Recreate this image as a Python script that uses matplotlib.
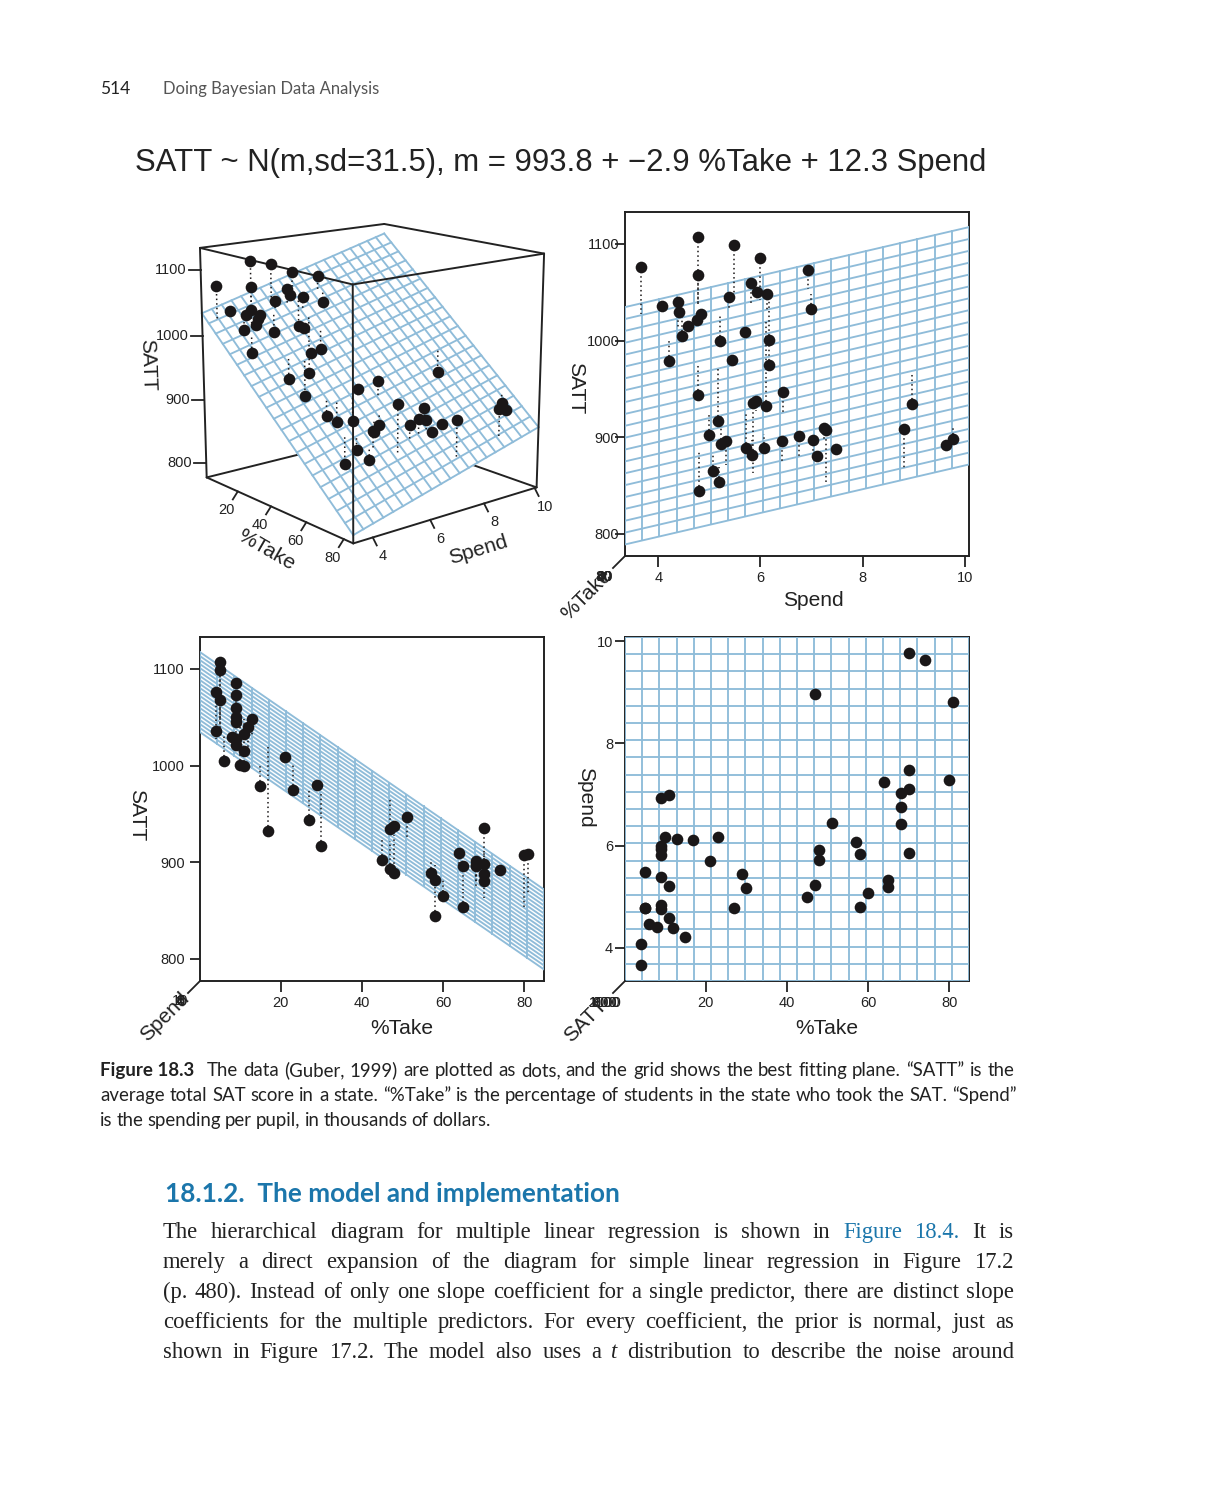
import matplotlib
matplotlib.use("Agg")
import matplotlib.pyplot as plt
import numpy as np

W = 1216
H = 1500

# data
spend = [4.405, 8.963, 4.778, 4.459, 4.992, 5.443, 8.817, 7.030, 5.718, 5.193,
         6.078, 4.210, 6.136, 5.826, 5.483, 5.817, 5.217, 4.761, 6.428, 7.245,
         7.287, 6.994, 6.000, 4.080, 5.383, 5.692, 5.935, 5.160, 5.859, 9.774,
         4.586, 9.623, 5.077, 4.775, 6.162, 4.845, 6.436, 7.109, 7.469, 4.797,
         4.775, 4.388, 5.222, 3.656, 6.750, 5.327, 5.906, 6.107, 6.930, 6.160]
take = [8, 47, 27, 6, 45, 29, 81, 68, 48, 65,
        57, 15, 13, 58, 5, 9, 11, 9, 68, 64,
        80, 11, 9, 4, 9, 21, 9, 30, 70, 70,
        11, 74, 60, 5, 23, 9, 51, 70, 70, 58,
        5, 12, 47, 4, 68, 65, 48, 17, 9, 10]
satt = [1029, 934, 944, 1005, 902, 980, 908, 897, 889, 854,
        889, 979, 1048, 882, 1099, 1060, 999, 1021, 896, 909,
        907, 1033, 1085, 1036, 1045, 1009, 1050, 917, 935, 898,
        1015, 892, 865, 1107, 975, 1027, 947, 880, 888, 844,
        1068, 1040, 893, 1076, 901, 896, 937, 932, 1073, 1001]

# fitted plane from the title
b0 = 993.8
b_take = -2.9
b_spend = 12.3

take_lim = (0.15, 84.85)
spend_lim = (3.35, 10.08)
satt_lim = (777, 1133)
take_ticks = [20, 40, 60, 80]
spend_ticks = [4, 6, 8, 10]
satt_ticks = [800, 900, 1000, 1100]
n_cells = 20

title = "SATT ~ N(m,sd=31.5), m = 993.8 + \u22122.9 %Take + 12.3 Spend"
caption = ["The data (Guber, 1999) are plotted as dots, and the grid shows the best fitting plane. \u201cSATT\u201d is the",
           "average total SAT score in a state. \u201c%Take\u201d is the percentage of students in the state who took the SAT. \u201cSpend\u201d",
           "is the spending per pupil, in thousands of dollars."]
body = ["The hierarchical diagram for multiple linear regression is shown in Figure 18.4. It is",
        "merely a direct expansion of the diagram for simple linear regression in Figure 17.2",
        "(p. 480). Instead of only one slope coefficient for a single predictor, there are distinct slope",
        "coefficients for the multiple predictors. For every coefficient, the prior is normal, just as",
        "shown in Figure 17.2. The model also uses a t distribution to describe the noise around"]

BLUE = "#8fbcd9"
BLACK = "#1a1718"
DOT = 8.4
LW = 1.35
TICK = "#222222"
TICKSIZE = 10.5
LAB = 15.1

spend = np.array(spend)
take = np.array(take)
satt = np.array(satt)

plt.rcParams["font.family"] = ["Liberation Sans", "DejaVu Sans"]
plt.rcParams["axes.linewidth"] = 1.4
plt.rcParams["axes.edgecolor"] = TICK
plt.rcParams["xtick.color"] = TICK
plt.rcParams["ytick.color"] = TICK


def plane(t, s):
    return b0 + b_take * t + b_spend * s


take_grid = np.linspace(take_lim[0], take_lim[1], n_cells + 1)
spend_grid = np.linspace(spend_lim[0], spend_lim[1], n_cells + 1)

fig = plt.figure(figsize=(W / 100, H / 100), dpi=100)


def panel(left, top, right, bottom):
    return fig.add_axes([left / W, 1 - bottom / H, (right - left) / W, (bottom - top) / H])


def style(ax, ylabel_pad):
    for s in ax.spines.values():
        s.set_zorder(1)
    ax.tick_params(axis="x", length=8, width=1.3, labelsize=TICKSIZE, pad=3, labelcolor=TICK)
    ax.tick_params(axis="y", length=7, width=1.3, labelsize=TICKSIZE, pad=ylabel_pad, labelcolor=TICK)


# top right: SATT against Spend
ax2 = panel(625, 212, 969, 556)
for t in take_grid:
    ax2.plot(spend_lim, [plane(t, spend_lim[0]), plane(t, spend_lim[1])], color=BLUE, lw=LW, zorder=2)
for s in spend_grid:
    ax2.plot([s, s], [plane(take_lim[0], s), plane(take_lim[1], s)], color=BLUE, lw=LW, zorder=2)
ax2.vlines(spend, satt, plane(take, spend), color=BLACK, lw=1.1, ls=(0, (1, 2)), zorder=3)
ax2.plot(spend, satt, "o", color=BLACK, ms=DOT, mew=0, zorder=4)
ax2.set_xlim(spend_lim)
ax2.set_ylim(satt_lim)
ax2.set_xticks(spend_ticks)
ax2.set_yticks(satt_ticks)
style(ax2, -3)

# bottom left: SATT against %Take
ax3 = panel(200, 637, 544, 981)
for s in spend_grid:
    ax3.plot(take_lim, [plane(take_lim[0], s), plane(take_lim[1], s)], color=BLUE, lw=LW, zorder=2)
for t in take_grid:
    ax3.plot([t, t], [plane(t, spend_lim[0]), plane(t, spend_lim[1])], color=BLUE, lw=LW, zorder=2)
ax3.vlines(take, satt, plane(take, spend), color=BLACK, lw=1.1, ls=(0, (1, 2)), zorder=3)
ax3.plot(take, satt, "o", color=BLACK, ms=DOT, mew=0, zorder=4)
ax3.set_xlim(take_lim)
ax3.set_ylim(satt_lim)
ax3.set_xticks(take_ticks)
ax3.set_yticks(satt_ticks)
style(ax3, 4)

# bottom right: Spend against %Take, looking straight down on the plane
ax4 = panel(625, 637, 969, 981)
for s in spend_grid:
    ax4.plot(take_lim, [s, s], color=BLUE, lw=LW, zorder=2)
for t in take_grid:
    ax4.plot([t, t], spend_lim, color=BLUE, lw=LW, zorder=2)
ax4.plot(take, spend, "o", color=BLACK, ms=DOT, mew=0, zorder=4)
ax4.set_xlim(take_lim)
ax4.set_ylim(spend_lim)
ax4.set_xticks(take_ticks)
ax4.set_yticks(spend_ticks)
style(ax4, 1.5)

# page layer in pixel coordinates, holds the 3D panel and all loose text
page = fig.add_axes([0, 0, 1, 1], zorder=10)
page.set_xlim(0, W)
page.set_ylim(H, 0)
page.axis("off")
page.patch.set_visible(False)

# projection of the 3D box, fitted on its eight corners
corner_data = []
corner_px = [(230, 800), (670, 1002), (1220, 830), (760, 673),
             (210, 113), (668, 225), (1242, 130), (763, 42)]
for zv in (0, 1):
    for tv, sv in ((0, 0), (1, 0), (1, 1), (0, 1)):
        corner_data.append((tv, sv, zv))
rows = []
for (a, b, c), (zx, zy) in zip(corner_data, corner_px):
    px = 130 + zx / 3
    py = 210 + zy / 3
    rows.append([a, b, c, 1, 0, 0, 0, 0, -px * a, -px * b, -px * c, -px])
    rows.append([0, 0, 0, 0, a, b, c, 1, -py * a, -py * b, -py * c, -py])
proj = np.linalg.svd(np.array(rows, dtype=float))[2][-1].reshape(3, 4)


def to_px(t, s, z):
    t = (np.asarray(t, dtype=float) - take_lim[0]) / (take_lim[1] - take_lim[0])
    s = (np.asarray(s, dtype=float) - spend_lim[0]) / (spend_lim[1] - spend_lim[0])
    z = (np.asarray(z, dtype=float) - satt_lim[0]) / (satt_lim[1] - satt_lim[0])
    v = np.stack([t, s, z, np.ones_like(t)])
    u = proj @ v
    return u[0] / u[2], u[1] / u[2]


def edge(t0, s0, z0, t1, s1, z1, zorder=5):
    x, y = to_px([t0, t1], [s0, s1], [z0, z1])
    page.plot(x, y, color=TICK, lw=1.4, zorder=zorder, solid_capstyle="round")


tl0, tl1 = take_lim
sl0, sl1 = spend_lim
zl0, zl1 = satt_lim
# back edges under the plane
edge(tl0, sl0, zl0, tl0, sl1, zl0, 1)
edge(tl1, sl1, zl0, tl0, sl1, zl0, 1)
edge(tl0, sl0, zl1, tl0, sl1, zl1, 1)
edge(tl0, sl1, zl1, tl1, sl1, zl1, 1)

cx = [tl0, tl1, tl1, tl0]
cy = [sl0, sl0, sl1, sl1]
fx, fy = to_px(cx, cy, [plane(a, b) for a, b in zip(cx, cy)])
page.fill(fx, fy, color="white", zorder=2)
for t in take_grid:
    x, y = to_px([t, t], spend_lim, [plane(t, sl0), plane(t, sl1)])
    page.plot(x, y, color=BLUE, lw=LW, zorder=3)
for s in spend_grid:
    x, y = to_px(take_lim, [s, s], [plane(tl0, s), plane(tl1, s)])
    page.plot(x, y, color=BLUE, lw=LW, zorder=3)

# front edges over the plane
edge(tl0, sl0, zl0, tl1, sl0, zl0)
edge(tl1, sl0, zl0, tl1, sl1, zl0)
edge(tl0, sl0, zl0, tl0, sl0, zl1)
edge(tl1, sl0, zl0, tl1, sl0, zl1)
edge(tl1, sl1, zl0, tl1, sl1, zl1)
edge(tl0, sl0, zl1, tl1, sl0, zl1)
edge(tl1, sl0, zl1, tl1, sl1, zl1)

px0, py0 = to_px(take, spend, plane(take, spend))
px1, py1 = to_px(take, spend, satt)
for a, b, c, d in zip(px0, py0, px1, py1):
    page.plot([a, c], [b, d], color=BLACK, lw=1.1, ls=(0, (1, 2)), zorder=6)
page.plot(px1, py1, "o", color=BLACK, ms=DOT, mew=0, zorder=7)

for z in satt_ticks:
    x, y = to_px(tl0, sl0, z)
    page.plot([x - 12, x], [y, y], color=TICK, lw=1.3, zorder=5)
    page.text(x - 14, y, str(z), ha="right", va="center", fontsize=TICKSIZE, color=TICK)
for t in take_ticks:
    x, y = to_px(t, sl0, zl0)
    page.plot([x, x - 5], [y, y + 8], color=TICK, lw=1.3, zorder=5)
    page.text(x - 11, y + 19, str(t), ha="center", va="center", fontsize=TICKSIZE, color=TICK)
for s in spend_ticks:
    x, y = to_px(tl1, s, zl0)
    page.plot([x, x + 4], [y, y + 8], color=TICK, lw=1.3, zorder=5)
    page.text(x + 10, y + 19, str(s), ha="center", va="center", fontsize=TICKSIZE, color=TICK)

page.text(147, 365, "SATT", rotation=-88, ha="center", va="center", fontsize=LAB, color=TICK)
page.text(266, 550, "%Take", rotation=-30, ha="center", va="center", fontsize=LAB, color=TICK)
page.text(478, 550, "Spend", rotation=17, ha="center", va="center", fontsize=LAB, color=TICK)

# axis labels of the flat panels and the stub of the third axis
page.text(576, 388, "SATT", rotation=-90, ha="center", va="center", fontsize=LAB, color=TICK)
page.text(813, 600, "Spend", ha="center", va="center", fontsize=LAB, color=TICK)
page.text(137, 815, "SATT", rotation=-90, ha="center", va="center", fontsize=LAB, color=TICK)
page.text(402, 1028, "%Take", ha="center", va="center", fontsize=LAB, color=TICK)
page.text(586, 797, "Spend", rotation=-90, ha="center", va="center", fontsize=LAB, color=TICK)
page.text(827, 1028, "%Take", ha="center", va="center", fontsize=LAB, color=TICK)

page.plot([625, 613], [556, 568], color=TICK, lw=1.3)
for t in take_ticks:
    page.text(604, 577, str(t), ha="center", va="center", fontsize=TICKSIZE, color=TICK)
page.text(587, 595, "%Take", rotation=45, ha="center", va="center", fontsize=LAB, color=TICK)

page.plot([200, 188], [981, 993], color=TICK, lw=1.3)
for s in spend_ticks:
    page.text(180, 1001, str(s), ha="center", va="center", fontsize=TICKSIZE, color=TICK)
page.text(165, 1017, "Spend", rotation=45, ha="center", va="center", fontsize=LAB, color=TICK)

page.plot([625, 613], [981, 993], color=TICK, lw=1.3)
for z in satt_ticks:
    page.text(605, 1003, str(z), ha="center", va="center", fontsize=TICKSIZE, color=TICK)
page.text(586, 1021, "SATT", rotation=45, ha="center", va="center", fontsize=LAB, color=TICK)

# running head and title
page.text(100, 94, "514", fontsize=12.5, family="Lato", color=TICK)
page.text(163, 94, "Doing Bayesian Data Analysis", fontsize=12, family="Lato", color="#555555")
page.text(135, 171, title, fontsize=22.4, color=TICK)


def justify(line, x0, x1, y, fontsize, family, fill=True, blue=(), italic=()):
    # word by word so both margins of the book text line up
    renderer = fig.canvas.get_renderer()
    words = line.split(" ")
    items = []
    width = 0
    for i, w in enumerate(words):
        color = "#1b76ab" if i in blue else TICK
        style_ = "italic" if i in italic else "normal"
        t = page.text(x0, y, w, fontsize=fontsize, family=family, color=color, style=style_)
        items.append(t)
        width += t.get_window_extent(renderer).width
    gap = (x1 - x0 - width) / (len(words) - 1)
    if not fill:
        gap = fontsize * 0.3
    x = x0
    for t in items:
        t.set_x(x)
        x += t.get_window_extent(renderer).width + gap


# caption
page.text(100, 1076, "Figure 18.3", fontsize=13.5, family="Lato", weight="bold", color=TICK)
justify(caption[0], 207, 1014, 1076, 13.4, "Lato")
justify(caption[1], 100, 1017, 1101, 13.4, "Lato")
justify(caption[2], 100, 1017, 1126, 13.4, "Lato", fill=False)

# section heading and body text
page.text(165, 1202, "18.1.2.  The model and implementation", fontsize=18.8, family="Lato", weight="bold", color="#1b76ab")
justify(body[0], 163, 1014, 1238, 16.3, "Liberation Serif", blue=(10, 11))
justify(body[1], 163, 1014, 1268, 16.3, "Liberation Serif")
justify(body[2], 163, 1014, 1298, 16.3, "Liberation Serif")
justify(body[3], 163, 1014, 1328, 16.3, "Liberation Serif")
justify(body[4], 163, 1014, 1358, 16.3, "Liberation Serif", italic=(9,))

fig.savefig("out.png", dpi=100)
